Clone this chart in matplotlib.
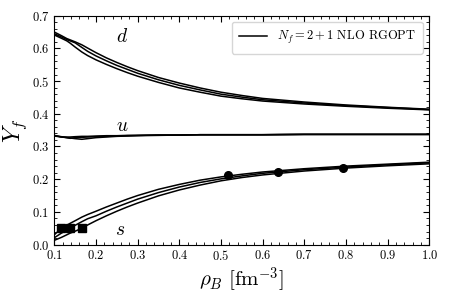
import numpy as np
import matplotlib
matplotlib.use('Agg')
import matplotlib.pyplot as plt
from matplotlib.ticker import MultipleLocator

plt.rcParams['mathtext.fontset'] = 'cm'
plt.rcParams['font.family'] = 'serif'
plt.rcParams['font.serif'] = ['cmr10', 'DejaVu Serif']
plt.rcParams['axes.formatter.use_mathtext'] = True
plt.rcParams['axes.unicode_minus'] = False

# densidade barionica (fm^-3)
rho = [0.100, 0.117, 0.130, 0.138, 0.150, 0.166, 0.180, 0.200, 0.225, 0.250, 0.275,
       0.300, 0.350, 0.400, 0.450, 0.500, 0.550, 0.600, 0.700, 0.800, 0.900, 1.000]

# fracoes Y_d (tres curvas)
d_A = [0.641, 0.631, 0.623, 0.616, 0.604, 0.589, 0.578, 0.565, 0.551, 0.538, 0.526,
       0.515, 0.496, 0.479, 0.466, 0.454, 0.446, 0.439, 0.430, 0.423, 0.417, 0.412]
d_B = [0.645, 0.635, 0.627, 0.623, 0.617, 0.603, 0.591, 0.577, 0.562, 0.548, 0.536,
       0.524, 0.504, 0.487, 0.473, 0.460, 0.451, 0.443, 0.433, 0.425, 0.419, 0.413]
d_C = [0.650, 0.639, 0.630, 0.626, 0.620, 0.611, 0.601, 0.587, 0.571, 0.557, 0.544,
       0.532, 0.511, 0.494, 0.479, 0.466, 0.456, 0.447, 0.436, 0.427, 0.420, 0.414]

# fracoes Y_u
u_A = [0.334, 0.329, 0.329, 0.329, 0.330, 0.331, 0.331, 0.332, 0.333, 0.333, 0.334,
       0.334, 0.335, 0.335, 0.336, 0.336, 0.336, 0.336, 0.337, 0.337, 0.337, 0.337]
u_B = [0.333, 0.330, 0.327, 0.325, 0.327, 0.328, 0.329, 0.330, 0.331, 0.332, 0.333,
       0.334, 0.335, 0.335, 0.336, 0.336, 0.336, 0.336, 0.337, 0.337, 0.337, 0.337]
u_C = [0.332, 0.329, 0.327, 0.326, 0.324, 0.322, 0.324, 0.327, 0.329, 0.331, 0.332,
       0.333, 0.334, 0.335, 0.336, 0.336, 0.336, 0.336, 0.337, 0.337, 0.337, 0.337]

# fracoes Y_s
s_A = [0.030, 0.050, 0.059, 0.065, 0.073, 0.084, 0.092, 0.102, 0.115, 0.127, 0.139,
       0.150, 0.169, 0.184, 0.197, 0.207, 0.215, 0.222, 0.232, 0.240, 0.246, 0.252]
s_B = [0.021, 0.035, 0.044, 0.050, 0.059, 0.070, 0.079, 0.088, 0.102, 0.115, 0.127,
       0.139, 0.159, 0.176, 0.190, 0.201, 0.210, 0.218, 0.229, 0.237, 0.244, 0.250]
s_C = [0.013, 0.022, 0.030, 0.035, 0.041, 0.050, 0.060, 0.073, 0.088, 0.102, 0.115,
       0.127, 0.149, 0.167, 0.182, 0.195, 0.205, 0.213, 0.225, 0.234, 0.241, 0.247]

# pontos marcados
sq_x = [0.117, 0.138, 0.166]
sq_y = [0.050, 0.050, 0.050]
circ_x = [0.516, 0.638, 0.792]
circ_y = [0.213, 0.223, 0.233]

fig = plt.figure(figsize=(4.49, 2.99), dpi=100)
ax = fig.add_axes([0.121, 0.182, 0.835, 0.7655])

lw = 1.1
ax.plot(rho, d_A, 'k-', lw=lw, label=r'$N_f=2+1$ NLO RGOPT')
for y in [d_B, d_C, u_A, u_B, u_C, s_A, s_B, s_C]:
    ax.plot(rho, y, 'k-', lw=lw)

ax.plot(sq_x, sq_y, 'ks', ms=6, zorder=5)
ax.plot(circ_x, circ_y, 'ko', ms=5.5, zorder=5)

ax.text(0.262, 0.636, r'$d$', fontsize=14, ha='center', va='center')
ax.text(0.262, 0.362, r'$u$', fontsize=14, ha='center', va='center')
ax.text(0.258, 0.045, r'$s$', fontsize=14, ha='center', va='center')

ax.set_xlim(0.1, 1.0)
ax.set_ylim(0.0, 0.7)
ax.xaxis.set_major_locator(MultipleLocator(0.1))
ax.xaxis.set_minor_locator(MultipleLocator(0.02))
ax.yaxis.set_major_locator(MultipleLocator(0.1))
ax.yaxis.set_minor_locator(MultipleLocator(0.02))
ax.tick_params(which='both', direction='in', top=True, right=True, labelsize=9)
ax.tick_params(which='major', length=4)
ax.tick_params(which='minor', length=2)

ax.set_xlabel(r'$\rho_B\ [\mathrm{fm}^{-3}]$', fontsize=15, labelpad=1)
ax.set_ylabel(r'$Y_f$', fontsize=17, labelpad=2)

ax.legend(loc='upper right', fontsize=9, frameon=True, fancybox=True,
          handlelength=2.2, borderpad=0.6)

fig.savefig('out.png', dpi=100)
